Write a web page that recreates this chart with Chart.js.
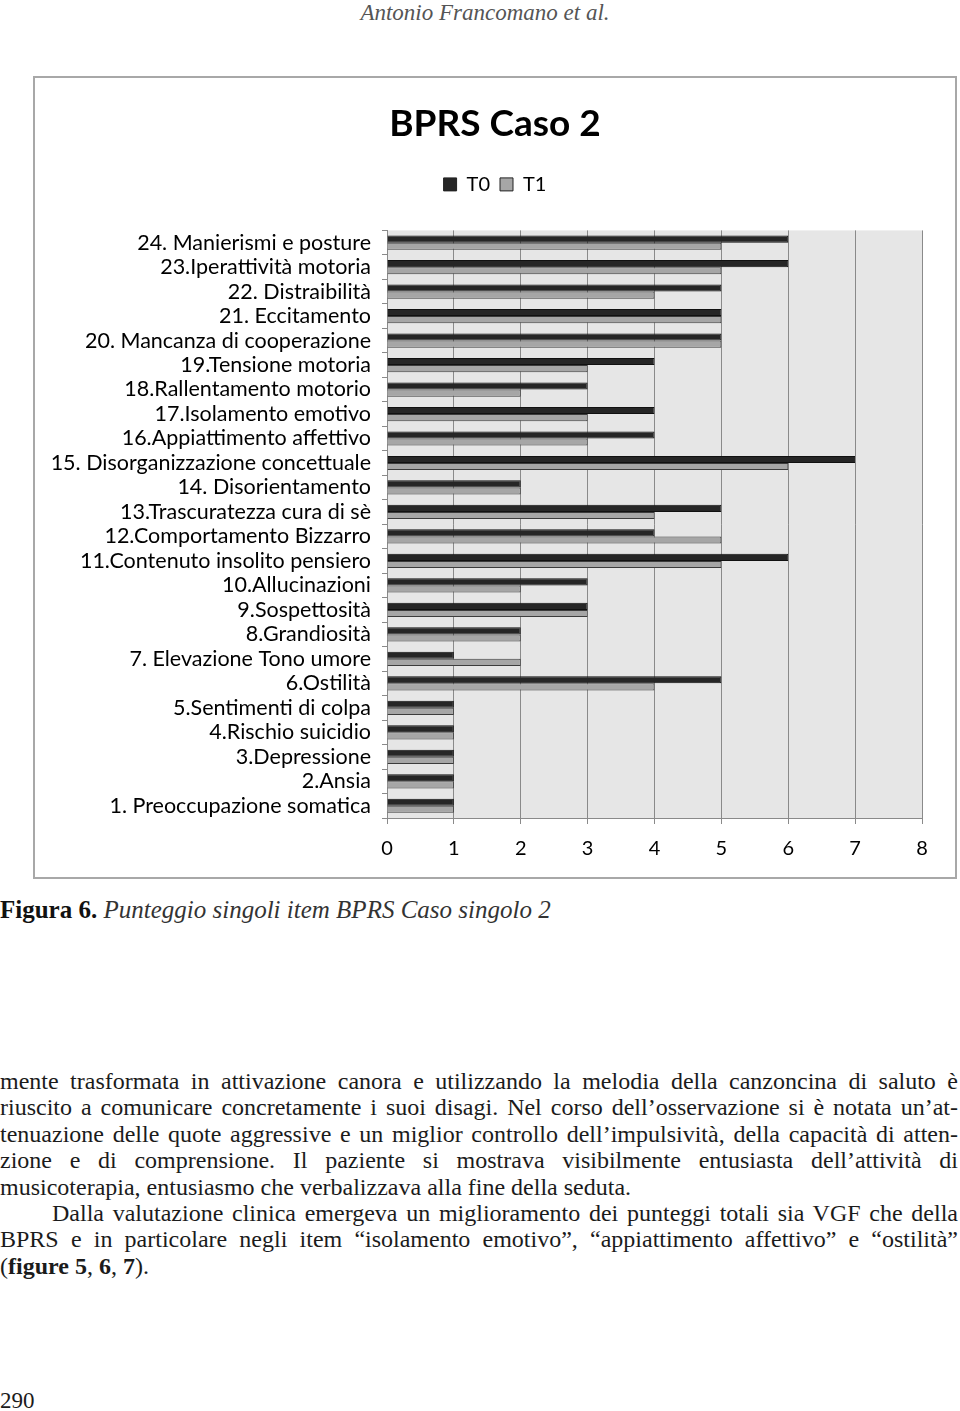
<!DOCTYPE html>
<html>
<head>
<meta charset="utf-8">
<script src="https://cdn.jsdelivr.net/npm/chart.js@4.4.0/dist/chart.umd.min.js"></script>
<style>
  body { margin: 0; width: 960px; height: 1411px; position: relative; overflow: hidden; background: #fff;
         font-family: "Liberation Serif", "Times New Roman", serif; color: #1b1b1b; }
  .header { position: absolute; top: 0; left: 0; width: 970px; text-align: center; font-style: italic; font-size: 23px; color: #555; }
  .frame { position: absolute; left: 33px; top: 76px; width: 920px; height: 799px; border: 2px solid #a8a8a8; }
  .caption { position: absolute; left: 0; top: 896px; font-size: 25px; }
  .caption b { color: #111; }
  .caption i { color: #333; }
  .body { position: absolute; left: 0; top: 1068px; width: 958px; font-size: 24px; line-height: 26.4px; }
  .ln { text-align: justify; text-align-last: justify; white-space: nowrap; }
  .ln.end { text-align-last: left; }
  .ln.ind { text-indent: 52px; }
  .pageno { position: absolute; left: 0; top: 1388px; font-size: 23px; }
</style>
</head>
<body>
<div class="header">Antonio Francomano et al.</div>
<div class="frame"><canvas id="chart" width="920" height="799"></canvas></div>
<div class="caption"><b>Figura 6.</b> <i>Punteggio singoli item BPRS Caso singolo 2</i></div>
<div class="body">
  <div class="ln">mente trasformata in attivazione canora e utilizzando la melodia della canzoncina di saluto è</div>
  <div class="ln">riuscito a comunicare concretamente i suoi disagi. Nel corso dell’osservazione si è notata un’at-</div>
  <div class="ln">tenuazione delle quote aggressive e un miglior controllo dell’impulsività, della capacità di atten-</div>
  <div class="ln">zione e di comprensione. Il paziente si mostrava visibilmente entusiasta dell’attività di</div>
  <div class="ln end">musicoterapia, entusiasmo che verbalizzava alla fine della seduta.</div>
  <div class="ln ind">Dalla valutazione clinica emergeva un miglioramento dei punteggi totali sia VGF che della</div>
  <div class="ln">BPRS e in particolare negli item “isolamento emotivo”, “appiattimento affettivo” e “ostilità”</div>
  <div class="ln end">(<b>figure 5</b>, <b>6</b>, <b>7</b>).</div>
</div>
<div class="pageno">290</div>

<script>
// BPRS items, 1 -> 24 (drawn bottom to top)
const ITEMS = [
  '1. Preoccupazione somatica', '2.Ansia', '3.Depressione', '4.Rischio suicidio',
  '5.Sentimenti di colpa', '6.Ostilità', '7. Elevazione Tono umore', '8.Grandiosità',
  '9.Sospettosità', '10.Allucinazioni', '11.Contenuto insolito pensiero', '12.Comportamento Bizzarro',
  '13.Trascuratezza cura di sè', '14. Disorientamento', '15. Disorganizzazione concettuale',
  '16.Appiattimento affettivo', '17.Isolamento emotivo', '18.Rallentamento motorio',
  '19.Tensione motoria', '20. Mancanza di cooperazione', '21. Eccitamento', '22. Distraibilità',
  '23.Iperattività motoria', '24. Manierismi e posture'
];
const T0 = [1, 1, 1, 1, 1, 5, 1, 2, 3, 3, 6, 4, 5, 2, 7, 4, 4, 3, 4, 5, 5, 5, 6, 6];
const T1 = [1, 1, 1, 1, 1, 4, 2, 2, 3, 2, 5, 5, 4, 2, 6, 3, 3, 2, 3, 5, 5, 4, 5, 5];
const X_MIN = 0, X_MAX = 8;

const FONT = 'Lato, "Open Sans", sans-serif';

// grey plot background like the spreadsheet chart
const plotBg = {
  id: 'plotBg',
  beforeDraw(chart) {
    const {ctx, chartArea: a} = chart;
    ctx.save();
    ctx.fillStyle = '#e6e6e6';
    ctx.fillRect(a.left, a.top, a.right - a.left, a.bottom - a.top);
    ctx.restore();
  }
};

// fixed legend height so the plot starts where it should
const legendSpace = {
  id: 'legendSpace',
  beforeInit(chart) {
    const fit = chart.legend.fit;
    chart.legend.fit = function () {
      fit.bind(chart.legend)();
      this.height = 66;
    };
  }
};

new Chart(document.getElementById('chart'), {
  type: 'bar',
  data: {
    labels: ITEMS,
    datasets: [
      { label: 'T0', data: T0, backgroundColor: '#262626', borderColor: '#111', borderWidth: 1 },
      { label: 'T1', data: T1, backgroundColor: '#a6a6a6', borderColor: '#3c3c3c', borderWidth: 1 }
    ]
  },
  options: {
    indexAxis: 'y',
    responsive: false,
    devicePixelRatio: 1,
    animation: false,
    layout: { padding: { left: 0, right: 0, top: 0, bottom: 3 } },
    datasets: { bar: { categoryPercentage: 0.58, barPercentage: 1.0 } },
    plugins: {
      title: {
        display: true, text: 'BPRS Caso 2', color: '#000',
        font: { family: FONT, size: 37, weight: 'bold' },
        padding: { top: 24, bottom: 18 }
      },
      legend: {
        display: true,
        labels: {
          color: '#000', font: { family: FONT, size: 20 },
          boxWidth: 13, boxHeight: 13, padding: 10,
          generateLabels(chart) {
            return chart.data.datasets.map((d, i) => ({
              text: d.label, fillStyle: d.backgroundColor, strokeStyle: '#222',
              lineWidth: 1, datasetIndex: i, hidden: false
            }));
          }
        }
      },
      tooltip: { enabled: false }
    },
    scales: {
      x: {
        min: X_MIN, max: X_MAX,
        afterFit(scale) { scale.paddingRight = 33; },
        ticks: { stepSize: 1, color: '#000', font: { family: FONT, size: 20 }, padding: 13 },
        grid: { color: '#8a8a8a', lineWidth: 1, tickLength: 6 },
        border: { color: '#8a8a8a' }
      },
      y: {
        reverse: true,
        offset: true,
        afterFit(scale) { scale.width = 352; },
        ticks: { autoSkip: false, color: '#000', font: { family: FONT, size: 21.5 }, padding: 11 },
        grid: { offset: true, drawOnChartArea: false, tickLength: 5, color: '#8a8a8a' },
        border: { color: '#8a8a8a' }
      }
    }
  },
  plugins: [plotBg, legendSpace]
});
</script>
</body>
</html>
